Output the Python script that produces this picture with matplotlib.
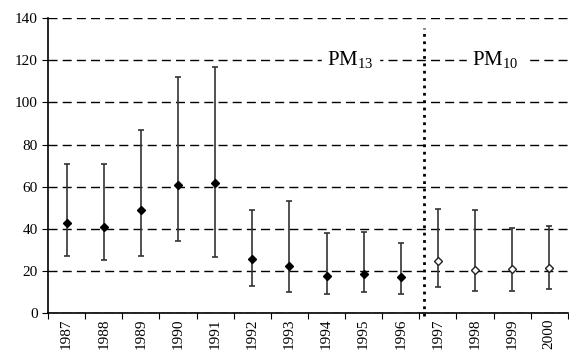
import numpy as np
import matplotlib.pyplot as plt

## data
years = ['1987', '1988', '1989', '1990', '1991', '1992', '1993',
         '1994', '1995', '1996', '1997', '1998', '1999', '2000']
mean_vals = [43, 41, 49, 61, 62, 25.5, 22.5, 17.7, 18.7, 17, 24.5, 20.3, 20.8, 21.5]
upper_vals = [71, 71, 87, 112, 117, 49, 53, 38, 38.5, 33.5, 49.5, 49, 40.5, 41.5]
lower_vals = [27, 25, 27, 34, 26.5, 13, 10, 9, 10, 9, 12.5, 10.5, 10.5, 11.5]
n_pm13 = 10  # first 10 years are PM13, rest PM10

plt.rcParams['font.family'] = ['Liberation Serif', 'DejaVu Serif']
plt.rcParams['font.size'] = 11

fig = plt.figure(figsize=(5.69, 3.51), dpi=100)
ax = fig.add_axes([0.0844, 0.108, 0.9136, 0.840])

x = np.arange(len(years))
mean_arr = np.array(mean_vals)
yerr = np.array([mean_arr - np.array(lower_vals), np.array(upper_vals) - mean_arr])

## gridlines
ax.set_ylim(0, 140)
ax.set_yticks(np.arange(0, 141, 20))
ax.yaxis.grid(True, linestyle=(0, (6.5, 3.7)), color='black', linewidth=1.0)
ax.set_axisbelow(True)

## error bars
ax.errorbar(x, mean_arr, yerr=yerr, fmt='none', ecolor='#333333',
            elinewidth=1.2, capsize=2.5, capthick=1.2, zorder=3)
ax.plot(x[:n_pm13], mean_arr[:n_pm13], 'D', color='black', markersize=4.2, zorder=4)
ax.plot(x[n_pm13:], mean_arr[n_pm13:], 'D', markerfacecolor='white',
        markeredgecolor='#222222', markeredgewidth=1.0, markersize=4.2, zorder=4)

## separator between PM13 and PM10
ax.plot([9.63, 9.63], [-1.5, 135.5], linestyle=':', color='black',
        linewidth=2, clip_on=False, zorder=5)

ax.text(7.65, 120, r'PM$_{\mathregular{13}}$', ha='center', va='center', fontsize=15,
        backgroundcolor='white', zorder=6)
ax.text(11.55, 120, r'PM$_{\mathregular{10}}$', ha='center', va='center', fontsize=15,
        backgroundcolor='white', zorder=6)

## axes styling
ax.set_xlim(-0.5, len(years) - 0.5)
ax.set_xticks(np.arange(-0.5, len(years), 1.0))
ax.set_xticklabels([])
ax.set_xticks(x, minor=True)
ax.set_xticklabels(years, minor=True, rotation=90)
ax.tick_params(axis='x', which='minor', length=0, pad=4)
ax.tick_params(axis='x', which='major', length=4, direction='out')
ax.tick_params(axis='y', length=4, direction='out')
ax.spines['top'].set_visible(False)
ax.spines['right'].set_visible(False)
ax.spines['left'].set_linewidth(1.2)
ax.spines['bottom'].set_linewidth(1.2)

fig.savefig('out.png', dpi=100)
